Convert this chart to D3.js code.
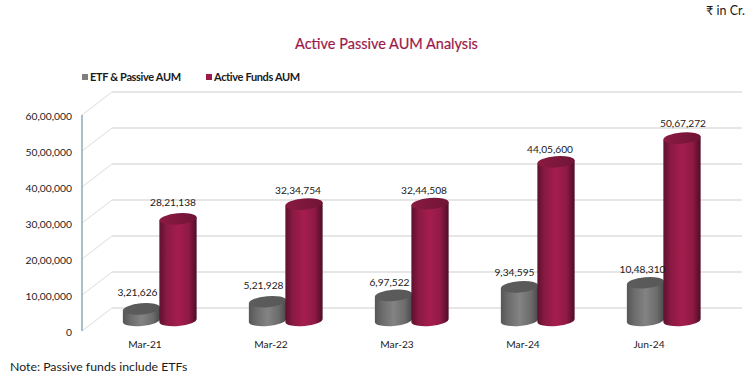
<!DOCTYPE html>
<html>
<head>
<meta charset="utf-8">
<script src="https://cdn.jsdelivr.net/npm/d3@7"></script>
<style>
  html, body { margin: 0; padding: 0; background: #fff; }
  svg { display: block; }
  text { font-family: Lato, "Noto Sans", sans-serif; fill: #1a1a1a; }
  .domain { display: none; }
  .tick line { display: none; }
</style>
</head>
<body>
<div id="chart"></div>
<script>
var categories = ["Mar-21", "Mar-22", "Mar-23", "Mar-24", "Jun-24"];
var passiveAum = [321626, 521928, 697522, 934595, 1048310];
var activeAum = [2821138, 3234754, 3244508, 4405600, 5067272];
var yTicks = [0, 1000000, 2000000, 3000000, 4000000, 5000000, 6000000];

// excel placed these labels by hand, so a small nudge from the default spot
var passiveNudge = [{x: -4, y: -2}, {x: -4, y: -2}, {x: -4, y: 2}, {x: -5, y: 0}, {x: -3, y: 1}];
var activeNudge = [{x: -5, y: -2}, {x: -6, y: 1}, {x: -6, y: 1}, {x: -6, y: 2}, {x: 1, y: 0}];

var width = 752, height = 378;
var depth = {x: 30, y: -23};   // front plane to back wall
var rx = 18.7, ry = 5.6, tiltDeg = -5;

var svg = d3.select("#chart").append("svg")
  .attr("width", width)
  .attr("height", height);

var x = d3.scaleBand().domain(categories).range([82, 712]);
var y = d3.scaleLinear().domain([0, 6000000]).range([331, 115]);
// the cylinders stand half way between front plane and back wall
var yBar = d3.scaleLinear().domain([0, 6000000]).range([320.5, 104.5]);

var fmt = function(d) { return d.toLocaleString("en-IN"); };

var defs = svg.append("defs");
function gradient(id, stops) {
  var g = defs.append("linearGradient").attr("id", id)
    .attr("x1", "0%").attr("x2", "100%").attr("y1", "0%").attr("y2", "0%");
  stops.forEach(function(s) {
    g.append("stop").attr("offset", s[0]).attr("stop-color", s[1]);
  });
}
gradient("sideGrey", [[0, "#565656"], [0.2, "#6c6c6c"], [0.5, "#838383"], [0.8, "#6c6c6c"], [1, "#4a4a4a"]]);
gradient("sideRed", [[0, "#5e1030"], [0.2, "#8a1a42"], [0.5, "#a51d4e"], [0.78, "#8f1a44"], [1, "#4f0d28"]]);
gradient("topGrey", [[0, "#5c5c5c"], [1, "#585858"]]);
gradient("topRed", [[0, "#8a1a42"], [1, "#701436"]]);

// back wall gridlines and the slanted bit down to the front plane
var grid = svg.append("g");
grid.selectAll(".back").data(yTicks).enter().append("line")
  .attr("x1", 82 + depth.x).attr("x2", 742)
  .attr("y1", function(d) { return y(d) + depth.y; })
  .attr("y2", function(d) { return y(d) + depth.y; })
  .attr("stroke", "#dedede").attr("stroke-width", 1.4);
grid.selectAll(".side").data(yTicks).enter().append("line")
  .attr("x1", 82).attr("x2", 82 + depth.x)
  .attr("y1", function(d) { return y(d); })
  .attr("y2", function(d) { return y(d) + depth.y; })
  .attr("stroke", "#dcdcdc").attr("stroke-width", 1);

svg.append("line")
  .attr("x1", 82).attr("x2", 82)
  .attr("y1", y(6000000)).attr("y2", y(0))
  .attr("stroke", "#6f94a8").attr("stroke-width", 1.2);

var yAxis = svg.append("g")
  .attr("transform", "translate(72,1.5)")
  .call(d3.axisLeft(y).tickValues(yTicks).tickSize(0).tickPadding(0).tickFormat(fmt));
yAxis.selectAll("text").style("font-family", "Lato").style("font-size", "10.3px").attr("fill", "#1a1a1a");

var xAxis = svg.append("g")
  .attr("transform", "translate(0,340.5)")
  .call(d3.axisBottom(x).tickSize(0).tickPadding(0));
xAxis.selectAll("text").style("font-family", "Lato").style("font-size", "10.2px").attr("fill", "#1a1a1a");

function cylinder(cx, val, side, top) {
  var g = svg.append("g");
  var y0 = yBar(0), y1 = yBar(val);
  var t = tiltDeg * Math.PI / 180;
  var dx = rx * Math.cos(t), dy = rx * Math.sin(t);
  // side wall with the rounded bottom, ends follow the tilt of the ellipse
  g.append("path")
    .attr("d", "M" + (cx - dx) + "," + (y1 - dy)
      + "L" + (cx - dx) + "," + (y0 - dy)
      + "A" + rx + "," + ry + " " + tiltDeg + " 0 0 " + (cx + dx) + "," + (y0 + dy)
      + "L" + (cx + dx) + "," + (y1 + dy) + "Z")
    .attr("fill", "url(#" + side + ")");
  g.append("ellipse").attr("cx", cx).attr("cy", y1).attr("rx", rx).attr("ry", ry)
    .attr("transform", "rotate(" + tiltDeg + " " + cx + " " + y1 + ")")
    .attr("fill", "url(#" + top + ")");
}

categories.forEach(function(c, i) {
  var mid = x(c) + x.bandwidth() / 2;
  cylinder(mid - 3.5, passiveAum[i], "sideGrey", "topGrey");
  cylinder(mid + 33, activeAum[i], "sideRed", "topRed");
});

function labels(values, off, nudge) {
  svg.append("g").selectAll("text").data(values).enter().append("text")
    .attr("x", function(d, i) { return x(categories[i]) + x.bandwidth() / 2 + off + nudge[i].x; })
    .attr("y", function(d, i) { return yBar(d) - 11 + nudge[i].y; })
    .attr("text-anchor", "middle")
    .style("font-size", "10.2px")
    .text(fmt);
}
labels(passiveAum, -3.5, passiveNudge);
labels(activeAum, 33, activeNudge);

svg.append("text").attr("x", 386.5).attr("y", 49).attr("text-anchor", "middle")
  .style("font-size", "14.5px").style("fill", "#9b1a4a").style("stroke", "#9b1a4a").style("stroke-width", 0.2)
  .text("Active Passive AUM Analysis");

svg.append("text").attr("x", 745).attr("y", 15).attr("text-anchor", "end")
  .style("font-size", "12.5px").text("₹ in Cr.");

var legend = svg.append("g");
legend.append("rect").attr("x", 82).attr("y", 74).attr("width", 6).attr("height", 6).attr("fill", "#7f7f7f");
legend.append("text").attr("x", 90).attr("y", 81).style("font-size", "11px").style("font-weight", 700).style("letter-spacing", "-0.35px").text("ETF & Passive AUM");
legend.append("rect").attr("x", 206).attr("y", 74).attr("width", 6).attr("height", 6).attr("fill", "#9b1a4a");
legend.append("text").attr("x", 214).attr("y", 81).style("font-size", "11px").style("font-weight", 700).style("letter-spacing", "-0.35px").text("Active Funds AUM");

svg.append("text").attr("x", 10).attr("y", 371)
  .style("font-size", "12.3px").text("Note: Passive funds include ETFs");
</script>
</body>
</html>
